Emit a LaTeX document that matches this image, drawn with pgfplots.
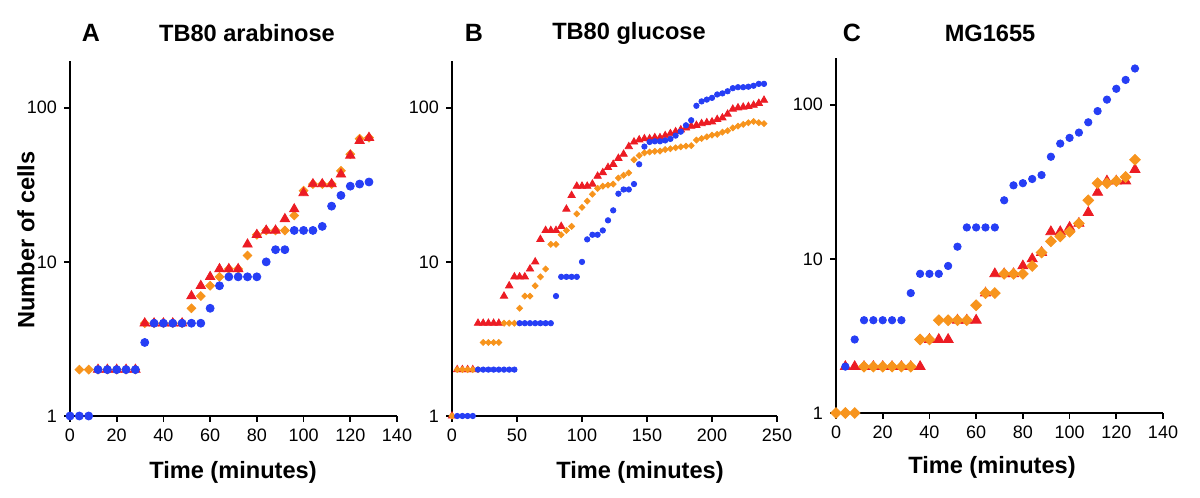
\documentclass[border=0pt]{standalone}
\usepackage{pgfplots}
\pgfplotsset{compat=1.18}
\usepackage{fontspec}
\setmainfont{Liberation Sans}
\definecolor{cblue}{RGB}{38,62,245}
\definecolor{cred}{RGB}{236,28,36}
\definecolor{corange}{RGB}{247,148,29}
\pgfplotsset{
  every axis/.append style={
    scale only axis, height=177.3pt,
    ymin=1, ymax=200, xmin=0,
    axis x line=bottom, axis y line=left,
    axis line style={-, line width=1pt},
    tick style={black, line width=0.8pt},
    tick align=outside, major tick length=3pt,
    ytick={1,10,100}, yticklabels={1,10,100},
    minor tick length=0pt,
    tick label style={font=\fontsize{9}{10}\selectfont},
    /pgf/number format/assume math mode=true,
    clip=false,
  },
}
\begin{document}
\begin{tikzpicture}
\path[use as bounding box] (0,0) rectangle (600pt,249pt);
% Panel A
\begin{semilogyaxis}[at={(35pt,41pt)}, anchor=south west, width=163.5pt,
  xmax=140, xtick={0,20,...,140}]
\addplot[only marks, mark=square*, color=corange, mark size=1.55pt, mark options={rotate=45}] coordinates {(4,2)(8,2)(12,2)(16,2)(20,2)(24,2)(28,2)(32,4)(36,4)(40,4)(44,4)(48,4)(52,5)(56,6)(60,7)(64,8)(68,9)(72,9)(76,11)(80,15)(84,16)(88,16)(92,16)(96,20)(100,29)(104,32)(108,32)(112,32)(116,39)(120,50)(124,63)(128,64)};
\addplot[only marks, mark=triangle*, color=cred, mark size=2.7pt] coordinates {(12,2)(16,2)(20,2)(24,2)(28,2)(32,4)(36,4)(40,4)(44,4)(48,4)(52,6)(56,7)(60,8)(64,9)(68,9)(72,9)(76,13)(80,15)(84,16)(88,16)(92,19)(96,22)(100,28)(104,32)(108,32)(112,32)(116,37)(120,49)(124,61)(128,64)};
\addplot[only marks, mark=*, color=cblue, mark size=2pt] coordinates {(0,1)(4,1)(8,1)(12,2)(16,2)(20,2)(24,2)(28,2)(32,3)(36,4)(40,4)(44,4)(48,4)(52,4)(56,4)(60,5)(64,7)(68,8)(72,8)(76,8)(80,8)(84,10)(88,12)(92,12)(96,16)(100,16)(104,16)(108,17)(112,23)(116,27)(120,31)(124,32)(128,33)};
\end{semilogyaxis}
% Panel B
\begin{semilogyaxis}[at={(226pt,41pt)}, anchor=south west, width=162.5pt,
  xmax=250, xtick={0,50,...,250}]
\addplot[only marks, mark=triangle*, color=cred, mark size=2.1pt] coordinates {(0,1)(4,2)(8,2)(12,2)(16,2)(20,4)(24,4)(28,4)(32,4)(36,4)(40,6)(44,7)(48,8)(52,8)(56,8)(60,9)(64,10)(68,14)(72,16)(76,16)(80,16)(84,17)(88,22)(92,27)(96,31)(100,31)(104,31)(108,32)(112,36)(116,38)(120,41)(124,43)(128,47)(132,50)(136,56)(140,60)(144,62)(148,63)(152,63)(156,64)(160,64)(164,66)(168,68)(172,70)(176,72)(180,74)(184,76)(188,77)(192,79)(196,80)(200,81)(204,84)(208,86)(212,91)(216,98)(220,100)(224,101)(228,102)(232,104)(236,107)(240,112)};
\addplot[only marks, mark=square*, color=corange, mark size=1.05pt, mark options={rotate=45}] coordinates {(0,1)(4,2)(8,2)(12,2)(16,2)(20,2)(24,3)(28,3)(32,3)(36,3)(40,4)(44,4)(48,4)(52,5)(56,6)(60,6)(64,7)(68,8)(72,9)(76,13)(80,13)(84,15)(88,16)(92,17)(96,20.5)(100,22.6)(104,24.8)(108,27.5)(112,30)(116,31)(120,31.5)(124,32)(128,35)(132,36.5)(136,37.8)(140,46)(144,49)(148,51)(152,51.6)(156,52.2)(160,52.4)(164,53.6)(168,54.2)(172,55)(176,55.8)(180,56.4)(184,56.8)(188,61.7)(192,63.2)(196,64.8)(200,66.5)(204,67.3)(208,69.5)(212,71)(216,74)(220,76)(224,78)(228,80)(232,81.5)(236,80)(240,79)};
\addplot[only marks, mark=*, color=cblue, mark size=1.35pt] coordinates {(4,1)(8,1)(12,1)(16,1)(20,2)(24,2)(28,2)(32,2)(36,2)(40,2)(44,2)(48,2)(52,4)(56,4)(60,4)(64,4)(68,4)(72,4)(76,4)(80,6)(84,8)(88,8)(92,8)(96,8)(100,10)(104,14)(108,15)(112,15)(116,16)(120,18.6)(124,21.6)(128,27.7)(132,29.5)(136,29.5)(140,32)(144,43)(148,56)(152,60)(156,60.6)(160,60.6)(164,61.4)(168,62.8)(172,66)(176,70)(180,77)(184,83)(188,103)(192,110)(196,113)(200,116)(204,122)(208,124)(212,128)(216,134)(220,136)(224,136)(228,137)(232,139)(236,143)(240,143)};
\end{semilogyaxis}
% Panel C
\begin{semilogyaxis}[at={(418pt,42.5pt)}, anchor=south west, width=163.5pt,
  xmax=140, xtick={0,20,...,140}]
\addplot[only marks, mark=triangle*, color=cred, mark size=2.9pt] coordinates {(4,2)(8,2)(12,2)(16,2)(20,2)(24,2)(28,2)(32,2)(36,2)(40,3)(44,3)(48,3)(52,4)(56,4)(60,4)(64,6)(68,8)(72,8)(76,8)(80,9)(84,10)(88,11)(92,15)(96,15)(100,16)(104,17)(108,20)(112,27)(116,32)(120,32)(124,32)(128,38)};
\addplot[only marks, mark=*, color=cblue, mark size=1.85pt] coordinates {(4,2)(8,3)(12,4)(16,4)(20,4)(24,4)(28,4)(32,6)(36,8)(40,8)(44,8)(48,9)(52,12)(56,16)(60,16)(64,16)(68,16)(72,24)(76,30)(80,31)(84,33)(88,35)(92,46)(96,56)(100,61)(104,66)(108,77)(112,91)(116,108)(120,127)(124,145)(128,172)};
\addplot[only marks, mark=square*, color=corange, mark size=1.9pt, mark options={rotate=45}] coordinates {(0,1)(4,1)(8,1)(12,2)(16,2)(20,2)(24,2)(28,2)(32,2)(36,3)(40,3)(44,4)(48,4)(52,4)(56,4)(60,5)(64,6)(68,6)(72,8)(76,8)(80,8)(84,9)(88,11)(92,13)(96,14)(100,15)(104,17)(108,24)(112,31)(116,31)(120,32)(124,34)(128,44)};
\end{semilogyaxis}
% labels
\node[font=\fontsize{12.5}{14}\selectfont\bfseries] at (45.5pt,232.5pt) {A};
\node[font=\fontsize{11.8}{14}\selectfont\bfseries] at (123.5pt,232.5pt) {TB80 arabinose};
\node[font=\fontsize{12.5}{14}\selectfont\bfseries] at (237pt,232.5pt) {B};
\node[font=\fontsize{11.8}{14}\selectfont\bfseries] at (314.5pt,232.5pt) {TB80 glucose};
\node[font=\fontsize{12.5}{14}\selectfont\bfseries] at (426pt,232.5pt) {C};
\node[font=\fontsize{11.8}{14}\selectfont\bfseries] at (495pt,232.5pt) {MG1655};
\node[font=\fontsize{11.8}{14}\selectfont\bfseries, rotate=90] at (13pt,129pt) {Number of cells};
\node[font=\fontsize{11.8}{14}\selectfont\bfseries] at (116.5pt,13pt) {Time (minutes)};
\node[font=\fontsize{11.8}{14}\selectfont\bfseries] at (320pt,13pt) {Time (minutes)};
\node[font=\fontsize{11.8}{14}\selectfont\bfseries] at (496pt,15.5pt) {Time (minutes)};
\end{tikzpicture}
\end{document}
